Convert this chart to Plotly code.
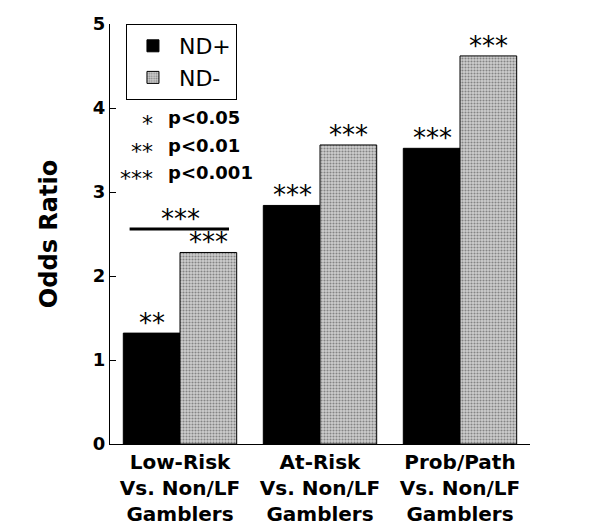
import plotly.graph_objects as go

# odds ratios
categories = ["Low-Risk<br>Vs. Non/LF<br>Gamblers",
              "At-Risk<br>Vs. Non/LF<br>Gamblers",
              "Prob/Path<br>Vs. Non/LF<br>Gamblers"]
nd_plus = [1.32, 2.84, 3.52]
nd_minus = [2.28, 3.56, 4.62]
stars_plus = ["**", "***", "***"]
stars_minus = ["***", "***", "***"]
sig_levels = ["*", "**", "***"]
sig_labels = ["p<0.05", "p<0.01", "p<0.001"]
key_y = [3.89, 3.55, 3.23]

FONT = "DejaVu Sans"
STAR = dict(family=FONT, size=26, color="black")

fig = go.Figure()
fig.add_trace(go.Bar(
    x=categories, y=nd_plus, name="ND+",
    marker=dict(color="black", line=dict(color="black", width=1)),
))
fig.add_trace(go.Bar(
    x=categories, y=nd_minus, name="ND-",
    marker=dict(color="#c8c8c8", line=dict(color="black", width=1),
                pattern=dict(shape=".", fgcolor="#3a3a3a", bgcolor="#cfcfcf",
                             size=3, solidity=0.4)),
))

annotations = []
# stars over each bar
for i, cat in enumerate(categories):
    annotations.append(dict(x=cat, y=nd_plus[i], text=stars_plus[i], xshift=-28,
                            yanchor="bottom", yshift=-7, showarrow=False, font=STAR))
    annotations.append(dict(x=cat, y=nd_minus[i], text=stars_minus[i], xshift=28,
                            yanchor="bottom", yshift=-7, showarrow=False, font=STAR))

# bracket line between the two low-risk bars
fig.add_shape(type="line", xref="x", yref="y", x0=-0.36, x1=0.35, y0=2.56, y1=2.56,
              line=dict(color="black", width=3))
annotations.append(dict(x=categories[0], y=2.56, text="***", yanchor="bottom", yshift=-7,
                        showarrow=False, font=STAR))

# significance key
for lvl, lab, yy in zip(sig_levels, sig_labels, key_y):
    annotations.append(dict(xref="paper", x=0.108, y=yy, text=lvl, xanchor="right",
                            yanchor="middle", yshift=-6, showarrow=False,
                            font=dict(family=FONT, size=22, color="black")))
    annotations.append(dict(xref="paper", x=0.134, y=yy, text="<b>" + lab + "</b>",
                            xanchor="left", yanchor="middle", showarrow=False,
                            font=dict(family=FONT, size=18, color="black")))

fig.update_layout(
    width=592, height=524,
    margin=dict(l=102, r=70, t=16, b=88),
    paper_bgcolor="white", plot_bgcolor="white",
    barmode="group", bargap=0.19, bargroupgap=0,
    font=dict(family=FONT, color="black"),
    annotations=annotations,
    showlegend=True,
    legend=dict(x=0.038, y=1.0, xanchor="left", yanchor="top",
                bordercolor="black", borderwidth=1, bgcolor="white",
                font=dict(family=FONT, size=22, color="black"),
                itemwidth=42, tracegroupgap=2),
)
fig.update_xaxes(
    showline=True, linecolor="black", linewidth=1, ticks="", automargin=False,
    tickfont=dict(family=FONT, size=20, color="black", weight="bold"),
    showgrid=False,
)
fig.update_yaxes(
    range=[0, 5], tickvals=[0, 1, 2, 3, 4, 5], automargin=False,
    showline=True, linecolor="black", linewidth=1,
    ticks="inside", ticklen=6, tickcolor="black",
    tickfont=dict(family=FONT, size=18, color="black", weight="bold"),
    title=dict(text="<b>Odds Ratio</b>", font=dict(family=FONT, size=24, color="black"),
               standoff=28),
    showgrid=False, zeroline=False,
)

fig.write_html("out.html")
